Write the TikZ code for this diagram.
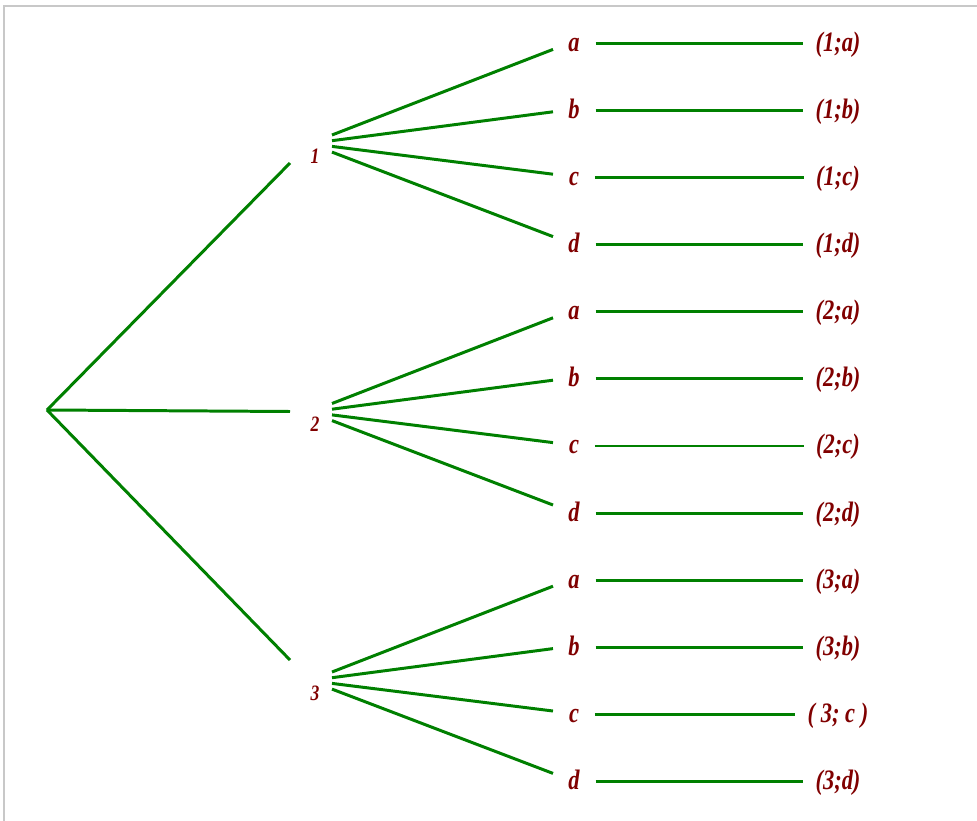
\documentclass[tikz,border=0pt]{standalone}
\usepackage{fontspec}
\newfontfamily\treefont[FakeStretch=0.8]{Liberation Serif}
\usepackage{xcolor}
\definecolor{branchgreen}{RGB}{0,128,0}
\definecolor{labelred}{RGB}{128,0,0}
\definecolor{framegray}{RGB}{200,200,200}
\usepackage{tikz}
\usetikzlibrary{calc}
\tikzstyle{branch} = [
    draw=branchgreen,
    line width=1.7pt,
]
\tikzstyle{stage} = [
    text=labelred,
    font=\treefont\bfseries\itshape\fontsize{12.5}{14}\selectfont,
]
\tikzstyle{choice} = [
    stage,
    font=\treefont\bfseries\itshape\fontsize{16}{18}\selectfont,
    text height=11pt,
    text depth=2pt,
]
\tikzstyle{outcome} = [
    choice,
]
\begin{document}
\begin{tikzpicture}[x=0.02cm, y=-0.02cm]
    \useasboundingbox (0,0) rectangle (977,821);
    \draw [framegray, line width=0.6pt] (4,821) -- (4,6) -- (977,6);

    % nodes
    \coordinate (root) at (47,410);
    \foreach \n [count=\i] in {1,2,3} {
        \pgfmathsetmacro\ys{156+268.5*(\i-1)}
        \pgfmathsetmacro\ye{163+248.5*(\i-1)}
        \node (s\n) at (315,\ys) [stage] {\n};
        \coordinate (e\n) at (290,\ye);
        \foreach \l [count=\j] in {a,b,c,d} {
            \pgfmathsetmacro\yr{43.4+67.1*(4*(\i-1)+\j-1)}
            \pgfmathsetmacro\yb{\ys-21+5.7*(\j-1)}
            \pgfmathsetmacro\yt{\yr+6-4.7*(\j-1)}
            \coordinate (b-\i-\j) at (332,\yb);
            \coordinate (t-\i-\j) at (553,\yt);
            \node (l-\i-\j) at (574,\yr) [choice] {\l};
        }
    }
    \foreach \res [count=\k] in
        {1;a,1;b,1;c,1;d,2;a,2;b,2;c,2;d,3;a,3;b,{\ 3; c\ },3;d} {
        \pgfmathtruncatemacro\i{int((\k-1)/4)+1}
        \pgfmathtruncatemacro\j{\k-4*(\i-1)}
        \pgfmathsetmacro\yr{43.4+67.1*(\k-1)}
        \node (r-\i-\j) at (838,\yr) [outcome] {(\res)};
    }

    % branches
    \foreach \n in {1,2,3} {
        \draw [branch] (root) -- (e\n);
    }
    \foreach \i in {1,2,3} {
        \foreach \j in {1,...,4} {
            \draw [branch] (b-\i-\j) -- (t-\i-\j);
            \draw [branch, shorten <=5.5pt, shorten >=3.5pt] (l-\i-\j) -- (r-\i-\j);
        }
    }
\end{tikzpicture}
\end{document}
